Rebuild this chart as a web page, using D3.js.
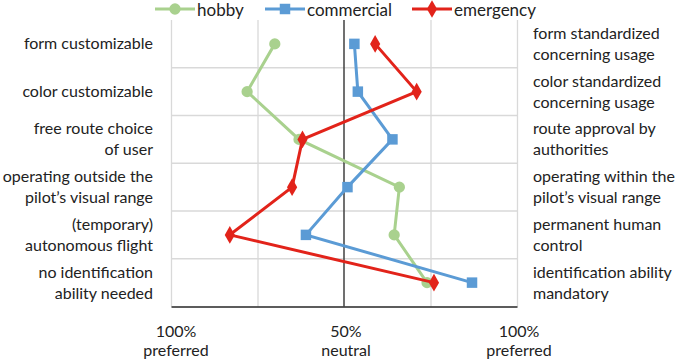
<!DOCTYPE html>
<html>
<head>
<meta charset="utf-8">
<script src="https://cdn.jsdelivr.net/npm/d3@7"></script>
<style>
  body { margin: 0; background: #fff; }
  text { font-family: Lato, "Open Sans", sans-serif; fill: #222; }
</style>
</head>
<body>
<div id="chart"></div>
<script>
// aspects, left pole / right pole
var leftLabels = [
  ["form customizable"],
  ["color customizable"],
  ["free route choice", "of user"],
  ["operating outside the", "pilot’s visual range"],
  ["(temporary)", "autonomous flight"],
  ["no identification", "ability needed"]
];
var rightLabels = [
  ["form standardized", "concerning usage"],
  ["color standardized", "concerning usage"],
  ["route approval by", "authorities"],
  ["operating within the", "pilot’s visual range"],
  ["permanent human", "control"],
  ["identification ability", "mandatory"]
];

// position on scale 0 (100% left preferred) .. 50 (neutral) .. 100 (100% right preferred)
var hobby      = [30, 22, 37, 66, 64.5, 74];
var commercial = [53, 54, 64, 51, 39, 87];
var emergency  = [59, 71, 38, 35, 17, 76];

var seriesNames = ["hobby", "commercial", "emergency"];
var tickValues = [0, 50, 100];
var tickLabels = [["100%", "preferred"], ["50%", "neutral"], ["100%", "preferred"]];

var W = 679, H = 361;
var plot = {left: 171, right: 517, top: 20, bottom: 306.5};
var colors = {hobby: "#a9d18e", commercial: "#5b9bd5", emergency: "#e2231a"};

var x = d3.scaleLinear().domain([0, 100]).range([plot.left, plot.right]);
var y = d3.scaleBand().domain(d3.range(leftLabels.length)).range([plot.top, plot.bottom]);
var cy = function(i) { return y(i) + y.bandwidth() / 2; };

var svg = d3.select("#chart").append("svg")
    .attr("width", W)
    .attr("height", H);

// horizontal gridlines (band boundaries)
svg.append("g").selectAll("line")
    .data(d3.range(1, leftLabels.length))
    .enter().append("line")
    .attr("x1", plot.left).attr("x2", plot.right)
    .attr("y1", function(d) { return y(d); })
    .attr("y2", function(d) { return y(d); })
    .attr("stroke", "#d9d9d9").attr("stroke-width", 1.3);

// vertical gridlines
svg.append("g")
    .attr("transform", "translate(0," + plot.bottom + ")")
    .call(d3.axisBottom(x).tickValues([0, 25, 75, 100]).tickSize(-(plot.bottom - plot.top)).tickFormat(""))
    .call(function(g) { g.select(".domain").remove(); })
    .selectAll("line").attr("stroke", "#d9d9d9").attr("stroke-width", 1.3);

// neutral line
svg.append("line")
    .attr("x1", x(50)).attr("x2", x(50))
    .attr("y1", plot.top).attr("y2", plot.bottom)
    .attr("stroke", "#404040").attr("stroke-width", 1.5);

// bottom axis
svg.append("g")
    .attr("transform", "translate(0," + plot.bottom + ")")
    .call(d3.axisBottom(x).tickValues([]).tickSizeOuter(0))
    .select(".domain").attr("stroke", "#262626").attr("stroke-width", 1.5);

// tick labels
var tl = svg.append("g").selectAll("text")
    .data(tickValues)
    .enter().append("text")
    .attr("text-anchor", "middle")
    .style("font-size", "16px");
tl.each(function(d, i) {
  var t = d3.select(this);
  tickLabels[i].forEach(function(s, k) {
    t.append("tspan").attr("x", x(d) + (i == 0 ? 5 : 2)).attr("y", 337 + k * 19).text(s);
  });
});

// row labels
function rowLabels(labels, xPos, anchor) {
  svg.append("g").selectAll("text")
    .data(labels)
    .enter().append("text")
    .attr("text-anchor", anchor)
    .style("font-size", "16px")
    .each(function(lines, i) {
      var t = d3.select(this);
      var y0 = cy(i) - (lines.length - 1) * 10.5 + 5.5;
      lines.forEach(function(s, k) {
        t.append("tspan").attr("x", xPos).attr("y", y0 + k * 21).text(s);
      });
    });
}
rowLabels(leftLabels, 153, "end");
rowLabels(rightLabels, 533, "start");

// markers
var symbols = {hobby: d3.symbolCircle, commercial: d3.symbolSquare, emergency: d3.symbolDiamond};
var sizes = {hobby: 100, commercial: 110, emergency: 90};
var data = {hobby: hobby, commercial: commercial, emergency: emergency};

var line = d3.line()
    .x(function(d) { return x(d); })
    .y(function(d, i) { return cy(i); });

seriesNames.forEach(function(name) {
  var g = svg.append("g");
  g.append("path")
    .datum(data[name])
    .attr("d", line)
    .attr("fill", "none")
    .attr("stroke", colors[name])
    .attr("stroke-width", 3);
  g.selectAll("path.pt")
    .data(data[name])
    .enter().append("path")
    .attr("class", "pt")
    .attr("transform", function(d, i) { return "translate(" + x(d) + "," + cy(i) + ")"; })
    .attr("d", d3.symbol().type(symbols[name]).size(sizes[name]))
    .attr("fill", colors[name]);
});

// legend
var legendX = [155, 265, 412];
var legend = svg.append("g").selectAll("g")
    .data(seriesNames)
    .enter().append("g")
    .attr("transform", function(d, i) { return "translate(" + legendX[i] + ",9)"; });
legend.append("line")
    .attr("x1", 0).attr("x2", 40)
    .attr("stroke", function(d) { return colors[d]; })
    .attr("stroke-width", 3);
legend.append("path")
    .attr("transform", "translate(20,0)")
    .attr("d", function(d) { return d3.symbol().type(symbols[d]).size(sizes[d])(); })
    .attr("fill", function(d) { return colors[d]; });
legend.append("text")
    .attr("x", 42).attr("y", 6.5)
    .style("font-size", "17px")
    .text(function(d) { return d; });
</script>
</body>
</html>
